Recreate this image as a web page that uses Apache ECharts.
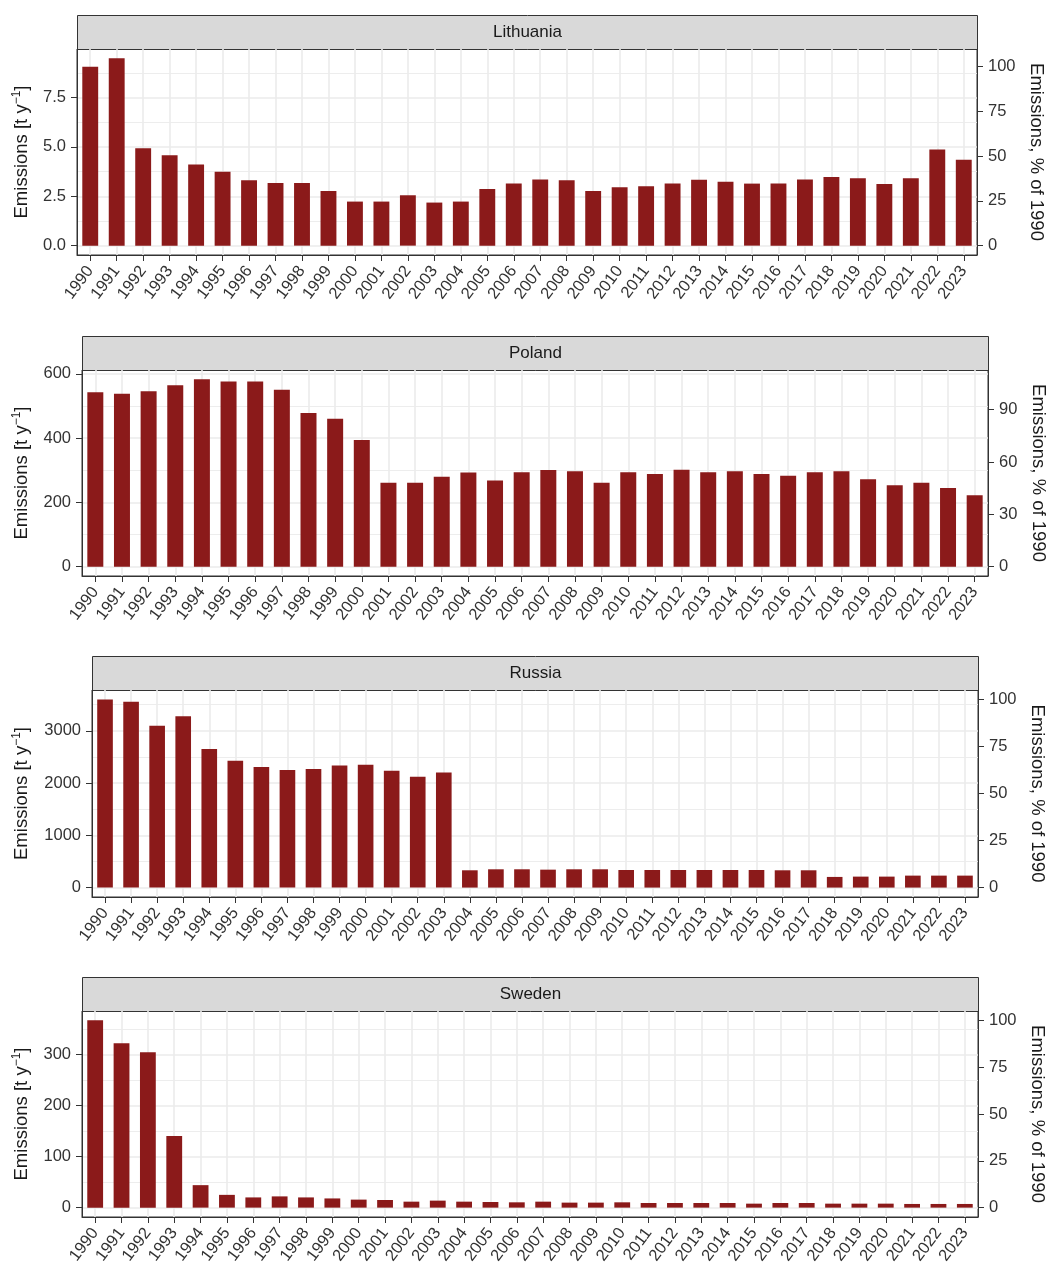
<!DOCTYPE html>
<html>
<head>
<meta charset="utf-8">
<script src="https://cdn.jsdelivr.net/npm/echarts@6/dist/echarts.min.js"></script>
<style>
html,body{margin:0;padding:0;background:#fff;}
#chart{width:1047px;height:1266px;}
</style>
</head>
<body>
<div id="chart"></div>
<script>
// ---------- data ----------
const years = ['1990','1991','1992','1993','1994','1995','1996','1997','1998','1999',
  '2000','2001','2002','2003','2004','2005','2006','2007','2008','2009','2010','2011',
  '2012','2013','2014','2015','2016','2017','2018','2019','2020','2021','2022','2023'];

const lithuania = [9.06, 9.48, 4.93, 4.58, 4.11, 3.74, 3.31, 3.17, 3.17, 2.77,
  2.23, 2.23, 2.55, 2.18, 2.23, 2.87, 3.14, 3.35, 3.31, 2.77, 2.95, 3.00,
  3.14, 3.34, 3.24, 3.14, 3.14, 3.35, 3.47, 3.41, 3.12, 3.41, 4.87, 4.35];

const poland = [543, 538, 546, 565, 583, 576, 576, 551, 478, 460,
  394, 261, 261, 280, 293, 268, 294, 301, 297, 261, 294, 288,
  302, 294, 297, 288, 283, 294, 297, 272, 253, 261, 245, 222];

const russia = [3600, 3554, 3096, 3280, 2650, 2427, 2306, 2248, 2268, 2338,
  2350, 2236, 2121, 2204, 331, 350, 350, 343, 350, 350, 337, 337,
  337, 337, 337, 337, 331, 331, 204, 210, 210, 229, 229, 229];

const sweden = [366.5, 321.5, 304, 140, 44, 25, 20, 22, 20, 18,
  15.7, 15, 11.7, 13.7, 11.7, 11, 10.4, 11.7, 9.8, 9.8, 10.4, 9.1,
  9.1, 9.1, 9.1, 7.8, 9.1, 9.1, 7.8, 7.8, 7.8, 7.2, 7.2, 7.2];

const panelNames = ['Lithuania', 'Poland', 'Russia', 'Sweden'];

const lithuaniaTicks = [0, 2.5, 5, 7.5];
const polandTicks = [0, 200, 400, 600];
const russiaTicks = [0, 1000, 2000, 3000];
const swedenTicks = [0, 100, 200, 300];

const lithuaniaPctTicks = [0, 25, 50, 75, 100];
const polandPctTicks = [0, 30, 60, 90];
const russiaPctTicks = [0, 25, 50, 75, 100];
const swedenPctTicks = [0, 25, 50, 75, 100];

const rightTitle = 'Emissions, % of 1990';

// ---------- layout (pixels) ----------
const layouts = [
  {l: 77, r: 977, t: 49,   b: 255,  st: 15,  lGap: 45, rGap: 50},
  {l: 82, r: 988, t: 370,  b: 576,  st: 336, lGap: 50, rGap: 39},
  {l: 92, r: 978, t: 690,  b: 897,  st: 656, lGap: 60, rGap: 49},
  {l: 82, r: 978, t: 1011, b: 1217, st: 977, lGap: 50, rGap: 49}
];
const decimals = [1, 0, 0, 0];

const seriesData = [lithuania, poland, russia, sweden];
const majorTicks = [lithuaniaTicks, polandTicks, russiaTicks, swedenTicks];
const pctTicks = [lithuaniaPctTicks, polandPctTicks, russiaPctTicks, swedenPctTicks];

const FONT = 'Liberation Sans, Arial, Helvetica, sans-serif';
const BAR = '#8B1A1A';
const GRID_MAJOR = '#EBEBEB';
const FRAME = '#333333';
const TXT = '#333333';
const TICK_FS = 16.5;
const TITLE_FS = 18.5;

const grid = [], xAxis = [], yAxis = [], series = [], graphic = [];

seriesData.forEach((data, i) => {
  const L = layouts[i];
  const M = Math.max.apply(null, data);
  const lo = -0.05 * M, hi = 1.05 * M;
  const base = data[0];
  const ticks = majorTicks[i];
  const step = ticks[1] - ticks[0];
  const minor = [];
  for (let v = ticks[0] - step / 2; v <= hi; v += step) {
    if (v >= lo) minor.push(v);
  }
  const idx = years.map((_, k) => k);

  grid.push({
    left: L.l, top: L.t, width: L.r - L.l, height: L.b - L.t,
    outerBoundsMode: 'none', containLabel: false,
    show: true, borderColor: FRAME, borderWidth: 1, backgroundColor: '#fff'
  });

  // category axis for bars and labels
  xAxis.push({
    type: 'category', gridIndex: i, data: years, position: 'bottom',
    axisLine: {show: true, onZero: false, lineStyle: {color: FRAME, width: 1}},
    axisTick: {show: true, alignWithLabel: true, length: 6, lineStyle: {color: FRAME, width: 1}},
    axisLabel: {interval: 0, rotate: 53, fontSize: TICK_FS, color: TXT, fontFamily: FONT, margin: 13},
    splitLine: {show: false}
  });
  // hidden value axis for vertical gridlines at category centres
  xAxis.push({
    type: 'value', gridIndex: i, min: -0.5, max: years.length - 0.5, position: 'top',
    axisLine: {show: false, onZero: false},
    axisTick: {show: false, customValues: idx},
    axisLabel: {show: false, customValues: idx},
    splitLine: {show: true, lineStyle: {color: GRID_MAJOR, width: 1.6}},
    z: 0
  });

  const dec = decimals[i];
  yAxis.push({
    type: 'value', gridIndex: i, position: 'left', min: lo, max: hi,
    axisLine: {show: true, onZero: false, lineStyle: {color: FRAME}},
    axisTick: {show: true, length: 6, customValues: ticks, lineStyle: {color: FRAME}},
    axisLabel: {customValues: ticks, fontSize: TICK_FS, color: TXT, fontFamily: FONT, margin: 11,
      formatter: v => Number(v).toFixed(dec)},
    splitLine: {show: true, lineStyle: {color: GRID_MAJOR, width: 1.6}},
    name: '{a|Emissions [t y}{s|\u22121}{a|]}', nameLocation: 'middle', nameGap: L.lGap,
    nameTextStyle: {
      fontSize: TITLE_FS, color: '#1a1a1a', fontFamily: FONT,
      rich: {
        a: {fontSize: TITLE_FS, color: '#1a1a1a', fontFamily: FONT},
        s: {fontSize: 12, color: '#1a1a1a', fontFamily: FONT, padding: [0, 0, 9, 0]}
      }
    }
  });
  const pt = pctTicks[i];
  yAxis.push({
    type: 'value', gridIndex: i, position: 'right', min: lo / base * 100, max: hi / base * 100,
    axisLine: {show: true, onZero: false, lineStyle: {color: FRAME}},
    axisTick: {show: true, length: 6, customValues: pt, lineStyle: {color: FRAME}},
    axisLabel: {customValues: pt, fontSize: TICK_FS, color: TXT, fontFamily: FONT, margin: 11,
      formatter: v => String(Math.round(v))},
    splitLine: {show: false},
    name: rightTitle, nameLocation: 'middle', nameGap: L.rGap, nameRotate: -90,
    nameTextStyle: {fontSize: TITLE_FS, color: '#1a1a1a', fontFamily: FONT}
  });
  yAxis.push({
    type: 'value', gridIndex: i, position: 'left', min: lo, max: hi,
    axisLine: {show: false, onZero: false},
    axisTick: {show: false, customValues: minor},
    axisLabel: {show: false, customValues: minor},
    splitLine: {show: true, lineStyle: {color: GRID_MAJOR, width: 0.9}},
    z: 0
  });

  series.push({
    type: 'bar', xAxisIndex: 2 * i, yAxisIndex: 3 * i, data: data,
    barWidth: '60%', itemStyle: {color: BAR}, z: 3, silent: true
  });

  graphic.push({
    type: 'group', left: L.l, top: L.st,
    children: [
      {type: 'rect', shape: {x: 0, y: 0, width: L.r - L.l, height: L.t - L.st},
       style: {fill: '#D9D9D9', stroke: FRAME, lineWidth: 1}},
      {type: 'text', x: (L.r - L.l) / 2, y: (L.t - L.st) / 2,
       style: {text: panelNames[i], fill: '#1a1a1a', font: '17px ' + FONT,
               textAlign: 'center', textVerticalAlign: 'middle'}}
    ]
  });
});

const chart = echarts.init(document.getElementById('chart'), null, {renderer: 'canvas'});
chart.setOption({
  animation: false,
  backgroundColor: '#fff',
  textStyle: {fontFamily: FONT},
  grid, xAxis, yAxis, series, graphic
});
</script>
</body>
</html>
